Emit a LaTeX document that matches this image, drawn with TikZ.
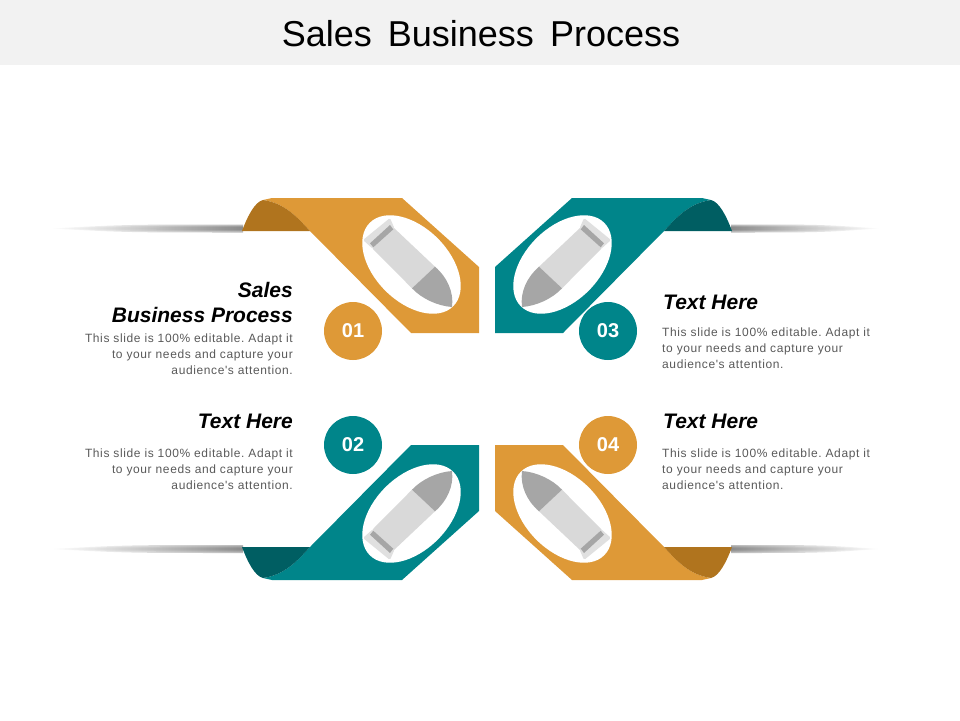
\documentclass[tikz,border=0pt]{standalone}
\usepackage{fontspec}
\setmainfont{Liberation Sans}
\newfontfamily\titlefont[WordSpace=1.6]{Liberation Sans}
\newfontfamily\bodyfont[LetterSpace=5.1]{Liberation Sans}
\usepackage{tikz}
\usetikzlibrary{shapes,positioning,calc}
\definecolor{ochre}{RGB}{222,153,55}
\definecolor{ochredark}{RGB}{176,116,30}
\definecolor{petrol}{RGB}{0,133,138}
\definecolor{petroldark}{RGB}{0,94,98}
\definecolor{bodygrey}{RGB}{89,89,89}
\tikzstyle{titlebar} = [fill=black!5, draw=none]
\tikzstyle{titletext} = [inner sep=0, font=\fontsize{36}{40}\selectfont\titlefont]
\tikzstyle{badge} = [circle, minimum size=58, inner sep=0, text=white, font=\fontsize{20}{24}\selectfont\bfseries]
\tikzstyle{headleft} = [anchor=east, align=right, inner sep=0, font=\fontsize{21}{25}\selectfont\bfseries\itshape]
\tikzstyle{headright} = [anchor=west, align=left, inner sep=0, font=\fontsize{21}{25}\selectfont\bfseries\itshape]
\tikzstyle{bodyleft} = [anchor=east, align=right, inner sep=0, text=bodygrey, font=\fontsize{12}{16}\selectfont\bodyfont\frenchspacing]
\tikzstyle{bodyright} = [anchor=west, align=left, inner sep=0, text=bodygrey, font=\fontsize{12}{16}\selectfont\bodyfont\frenchspacing]
\tikzstyle{fadeleft} = [left color=white, right color=black!50, opacity=0.55]
\tikzstyle{faderight} = [right color=white, left color=black!50, opacity=0.55]
\newcommand{\badge}[3]{node (c#1) [badge, fill=#2] {#3}}
\newcommand{\bodycopy}{This slide is 100\% editable. Adapt it\\to your needs and capture your\\audience's attention.}
\newcommand{\streak}[4]{%
\foreach \h in {4,2.6,1.3} {
\path[#4] (#1,#3) .. controls ($(#1,#3)!0.4!(#2,#3)+(0,-\h)$) .. (#2,#3-\h) -- (#2,#3+\h) .. controls ($(#1,#3)!0.4!(#2,#3)+(0,\h)$) .. (#1,#3) -- cycle;
}}
\newcommand{\ribbon}[3]{%
\begin{scope}[#3]
\path[fill=#1] (263,200) .. controls (285,203) and (298,218) .. (310,231) -- (411,333) -- (479,333) -- (479,267) -- (402,198) -- (272,198) -- cycle;
\path[fill=#2] (242,231) .. controls (248,215) and (255,202) .. (263,200) .. controls (285,203) and (298,218) .. (310,231) -- cycle;
\path[fill=white, rotate around={-45:(411.5,264.5)}] (411.5,264.5) ellipse (59 and 37);
\path[fill=black!12, rounded corners=1.5] (363,240) -- (390,218) -- (394.5,228.5) -- (373,249) -- cycle;
\path[fill=black!15] (372.5,248.5) -- (394,228) -- (435,266.7) -- (412,288.3) -- cycle;
\path[fill=black!35] (370,243.3) -- (390,225) -- (393.3,229.3) -- (373.3,247.3) -- cycle;
\path[fill=black!35] (412,288.3) -- (435,266.7) .. controls (447,277) and (454,292) .. (452,307) .. controls (438,306) and (422,299) .. (412,288.3) -- cycle;
\end{scope}}

\begin{document}
\begin{tikzpicture}[x=1pt,y=-1pt]
\useasboundingbox (0,0) rectangle (960,720);
\path[titlebar] (0,0) rectangle (960,65);
\path (481,34) node (title) [titletext] {Sales Business Process};

\streak{50}{243}{228.5}{fadeleft}
\streak{50}{243}{549}{fadeleft}
\streak{880}{731}{228.5}{faderight}
\streak{880}{731}{549}{faderight}

\ribbon{ochre}{ochredark}{}
\ribbon{petrol}{petroldark}{shift={(0,778)},yscale=-1}
\ribbon{petrol}{petroldark}{shift={(974,0)},xscale=-1}
\ribbon{ochre}{ochredark}{shift={(974,778)},scale=-1}

\path (353,331) \badge{1}{ochre}{01};
\path (c1)+(0,114) \badge{2}{petrol}{02};
\path (c1)+(255,0) \badge{3}{petrol}{03};
\path (c2)+(255,0) \badge{4}{ochre}{04};

\path (293,302) node (h1) [headleft] {Sales\\Business Process};
\path (293,354) node (b1) [bodyleft] {\bodycopy};
\path (293,421) node (h2) [headleft] {Text Here};
\path (293,469) node (b2) [bodyleft] {\bodycopy};
\path (663,302) node (h3) [headright] {Text Here};
\path (662,348) node (b3) [bodyright] {\bodycopy};
\path (663,421) node (h4) [headright] {Text Here};
\path (662,469) node (b4) [bodyright] {\bodycopy};
\end{tikzpicture}
\end{document}
